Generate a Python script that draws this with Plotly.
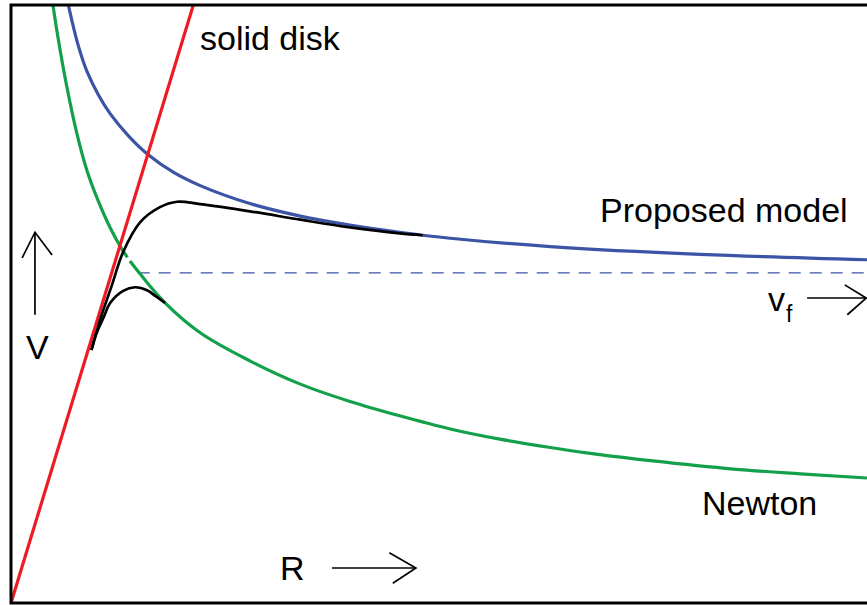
import plotly.graph_objects as go

# values, in R / V units (axis range 0..10 both ways)
disk_r = [0.0, 2.13]
disk_v = [0.0, 10.0]

newton_r = [0.49, 0.55, 0.65, 0.77, 0.89, 1.02, 1.16, 1.29, 1.36, None,
            1.39, 1.51, 1.80, 2.21, 2.79, 3.38, 3.96, 4.54, 5.13, 5.71,
            6.30, 6.88, 7.47, 8.44, 9.22, 10.0]
newton_v = [10.0, 9.45, 8.65, 7.85, 7.22, 6.72, 6.27, 5.93, 5.78, None,
            5.72, 5.50, 5.02, 4.52, 4.05, 3.66, 3.37, 3.13, 2.91, 2.74,
            2.60, 2.48, 2.38, 2.24, 2.16, 2.09]

model_r = [0.67, 0.78, 0.89, 1.02, 1.16, 1.38, 1.60, 1.90, 2.21, 2.79,
           3.38, 3.96, 4.54, 5.13, 6.30, 8.05, 10.0]
model_v = [10.0, 9.35, 8.88, 8.50, 8.18, 7.80, 7.50, 7.20, 6.98, 6.68,
           6.47, 6.32, 6.20, 6.10, 5.96, 5.83, 5.74]

upper_r = [0.94, 0.99, 1.06, 1.18, 1.31, 1.51, 1.74, 1.94, 2.21, 2.79,
           3.38, 3.96, 4.54, 4.81]
upper_v = [4.23, 4.48, 4.82, 5.32, 5.87, 6.37, 6.62, 6.71, 6.67, 6.55,
           6.41, 6.28, 6.18, 6.15]

lower_r = [0.94, 0.99, 1.08, 1.16, 1.31, 1.45, 1.59, 1.69, 1.80]
lower_v = [4.23, 4.48, 4.77, 5.02, 5.22, 5.28, 5.23, 5.13, 5.02]

vf_r = [1.48, 10.0]
vf_v = [5.52, 5.52]

# hand-drawn style arrows (shaft, then open head)
arrow_v_x = [0.28, 0.28, None, 0.13, 0.28, 0.48]
arrow_v_y = [4.82, 6.20, None, 5.77, 6.20, 5.82]
arrow_r_x = [3.75, 4.73, None, 4.42, 4.73, 4.46]
arrow_r_y = [0.585, 0.585, None, 0.84, 0.585, 0.33]
arrow_f_x = [9.30, 9.99, None, 9.74, 9.99, 9.77]
arrow_f_y = [5.10, 5.10, None, 5.32, 5.10, 4.82]

RED = "#ed1c24"
GREEN = "#13a04b"
BLUE = "#3b54a5"

fig = go.Figure()
fig.add_trace(go.Scatter(x=vf_r, y=vf_v, mode="lines",
                         line=dict(color=BLUE, width=1.4, dash="12px,9px")))
fig.add_trace(go.Scatter(x=newton_r, y=newton_v, mode="lines",
                         line=dict(color=GREEN, width=3.2, shape="spline")))
fig.add_trace(go.Scatter(x=model_r, y=model_v, mode="lines",
                         line=dict(color=BLUE, width=3.2, shape="spline")))
fig.add_trace(go.Scatter(x=disk_r, y=disk_v, mode="lines",
                         line=dict(color=RED, width=3.2)))
fig.add_trace(go.Scatter(x=upper_r, y=upper_v, mode="lines",
                         line=dict(color="black", width=2.7, shape="spline")))
fig.add_trace(go.Scatter(x=lower_r, y=lower_v, mode="lines",
                         line=dict(color="black", width=2.7, shape="spline")))
for ax, ay in [(arrow_v_x, arrow_v_y), (arrow_r_x, arrow_r_y), (arrow_f_x, arrow_f_y)]:
    fig.add_trace(go.Scatter(x=ax, y=ay, mode="lines",
                             line=dict(color="black", width=1.7)))

font = dict(family="Liberation Sans, Arial", size=34, color="black")
labels = [
    ("solid disk", 2.18, 9.45),
    ("Proposed model", 6.86, 6.57),
    ("Newton", 8.05, 1.67),
    ("V", 0.15, 4.28),
    ("R", 3.12, 0.585),
    ("v", 8.82, 5.08),
]
for txt, x, y in labels:
    fig.add_annotation(x=x, y=y, text=txt, showarrow=False,
                       xanchor="left", yanchor="middle", font=font)
# subscript of v_f, set lower and smaller like the original
fig.add_annotation(x=9.03, y=4.84, text="f", showarrow=False,
                   xanchor="left", yanchor="middle",
                   font=dict(family="Liberation Sans, Arial", size=23, color="black"))

# frame: top, left, bottom (right edge is cut off in the original)
fig.add_shape(type="path", xref="paper", yref="paper",
              path="M 1.01,1 L 0,1 L 0,0 L 1.01,0",
              line=dict(color="black", width=3))

fig.update_xaxes(range=[0, 10], visible=False, fixedrange=True)
fig.update_yaxes(range=[0, 10], visible=False, fixedrange=True)
fig.update_layout(
    width=867, height=605,
    margin=dict(l=11, r=0, t=5, b=2),
    showlegend=False,
    plot_bgcolor="white", paper_bgcolor="white",
)
fig.write_html("out.html", config={"displayModeBar": False},
               post_script="document.body.style.margin = '0px';")
